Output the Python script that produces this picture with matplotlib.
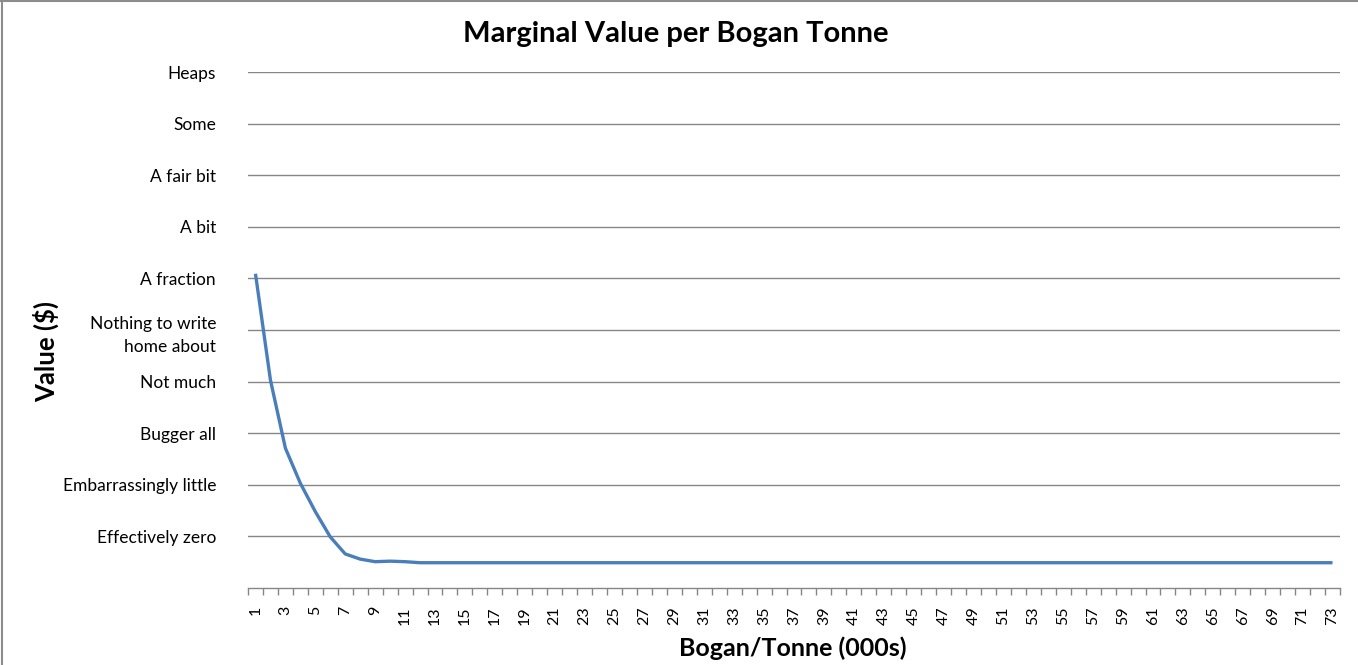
import matplotlib
matplotlib.use("Agg")
import matplotlib.pyplot as plt
from matplotlib.lines import Line2D

plt.rcParams['font.family'] = ['Lato', 'DejaVu Sans']

# ---- data ----
categories = list(range(1, 74))
values = [6.09, 4.03, 2.71, 2.03, 1.48, 0.99, 0.66, 0.56, 0.51, 0.52, 0.51, 0.49] + [0.49] * 61
y_levels = [1, 2, 3, 4, 5, 6, 7, 8, 9, 10]
y_labels = ["Effectively zero", "Embarrassingly little", "Bugger all", "Not much",
            "Nothing to write\nhome about", "A fraction", "A bit", "A fair bit",
            "Some", "Heaps"]
x_label_ticks = list(range(1, 74, 2))
title = "Marginal Value per Bogan Tonne"
xlabel = "Bogan/Tonne (000s)"
ylabel = "Value ($)"

W, H = 1358, 665
fig = plt.figure(figsize=(W / 100, H / 100), dpi=100)
ax = fig.add_axes([248 / W, (H - 588) / H, 1092 / W, 516 / H])

grid_col = "#868686"
ax.plot(categories, values, color="#4A7EBB", lw=2.4, solid_capstyle="butt", zorder=3)

ax.set_xlim(0.5, 73.5)
ax.set_ylim(0, 10)

for y in y_levels:
    ax.axhline(y, color=grid_col, lw=1.0, zorder=1)

ax.set_yticks(y_levels)
ax.set_yticklabels(y_labels)
ax.tick_params(axis="y", length=0, pad=23, labelsize=12.5)
for t in ax.get_yticklabels():
    if "\n" in t.get_text():
        t.set_linespacing(1.6)

ax.set_xticks(x_label_ticks)
ax.set_xticklabels([str(v) for v in x_label_ticks], rotation=90)
ax.set_xticks([c - 0.5 for c in categories] + [categories[-1] + 0.5], minor=True)
ax.tick_params(axis="x", which="major", length=0, pad=13, labelsize=11.5)
ax.tick_params(axis="x", which="minor", length=5, width=1, color=grid_col, direction="out")

for s in ["top", "right", "left"]:
    ax.spines[s].set_visible(False)
ax.spines["bottom"].set_color(grid_col)
ax.spines["bottom"].set_linewidth(1.0)

fig.text(676 / W, 1 - 34 / H, title, ha="center", va="center", fontsize=21, fontweight="bold")
fig.text(793 / W, 1 - 648 / H, xlabel, ha="center", va="center", fontsize=18, fontweight="bold")
fig.text(46 / W, 1 - 352 / H, ylabel, ha="center", va="center", fontsize=18.5,
         fontweight="bold", rotation=90)

# chart-area border (top and left edges)
fig.add_artist(Line2D([1 / W, 1], [1 - 1 / H, 1 - 1 / H], transform=fig.transFigure,
                      color="#8c8c8c", lw=1.5))
fig.add_artist(Line2D([1.5 / W, 1.5 / W], [0, 1], transform=fig.transFigure,
                      color="#8c8c8c", lw=1.5))

fig.savefig("out.png", dpi=100)
